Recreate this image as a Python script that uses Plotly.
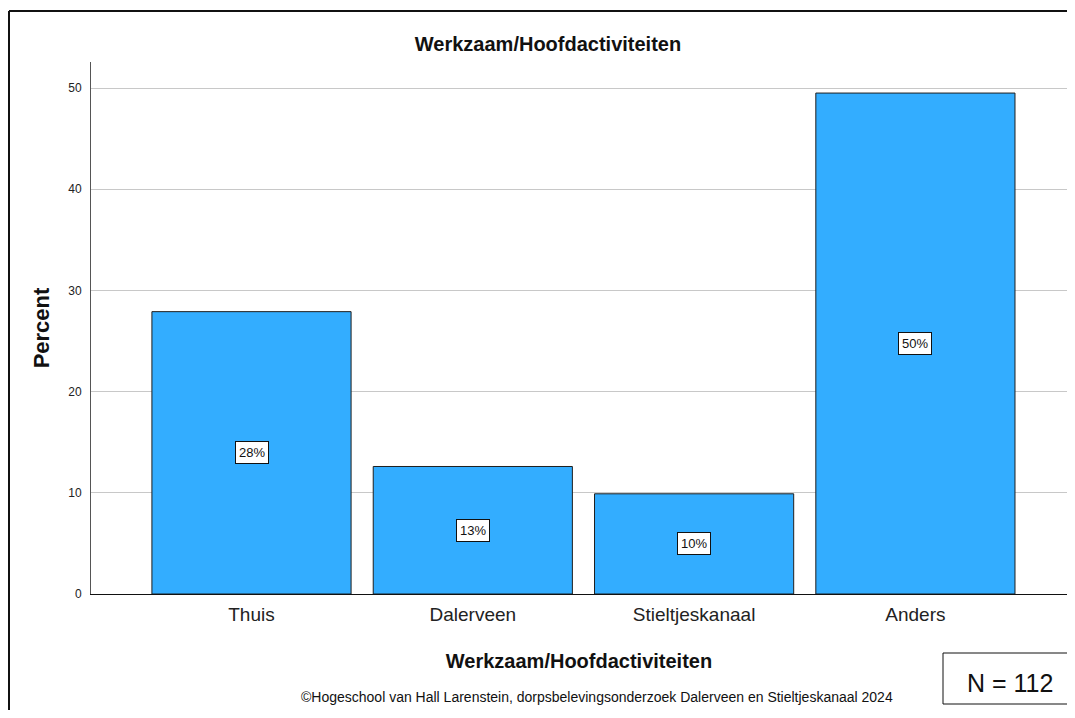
import plotly.graph_objects as go

categories = ["Thuis", "Dalerveen", "Stieltjeskanaal", "Anders"]
percent = [27.9, 12.6, 9.9, 49.5]
bar_labels = [f"{int(v + 0.5)}%" for v in percent]
y_ticks = [0, 10, 20, 30, 40, 50]
n_total = 112

FONT = "Liberation Sans"
O = 8  # browser body margin offset
W, H = 1075 - 2 * O, 718 - 2 * O
L, R, T, B = 91 - O, 0, 62 - O, H - (594 - O)

def px_x(page_x):
    return (page_x - O - L) / (W - L - R)

def px_y(page_y):
    return (H - B - (page_y - O)) / (H - T - B)

CAT_PX = 221.3     # pixels per category
C0_PX = 251.5      # page x of first category centre
x_range = [(91 - C0_PX) / CAT_PX, (1067 - C0_PX) / CAT_PX]

fig = go.Figure()
fig.add_trace(go.Bar(
    x=list(range(len(categories))), y=percent, width=0.9,
    marker=dict(color="#33adff", line=dict(color="#1f1f1f", width=1)),
    hoverinfo="skip",
))

for i, (v, lab) in enumerate(zip(percent, bar_labels)):
    fig.add_annotation(x=i, y=v / 2, xref="x", yref="y", text=lab, showarrow=False,
                       font=dict(family=FONT, size=13, color="#111"),
                       bgcolor="white", bordercolor="#111", borderwidth=1, borderpad=3)

fig.update_layout(
    width=W, height=H,
    margin=dict(l=L, r=R, t=T, b=B),
    paper_bgcolor="white", plot_bgcolor="white",
    showlegend=False,
    title=dict(text="<b>Werkzaam/Hoofdactiviteiten</b>", x=(548 - O) / W, xanchor="center",
               y=1 - (44 - O) / H, yanchor="middle", xref="container", yref="container",
               font=dict(family=FONT, size=20, color="#111")),
    xaxis=dict(
        range=x_range, tickmode="array", tickvals=list(range(len(categories))),
        ticktext=categories, showgrid=False, zeroline=False,
        showline=True, linecolor="#111", linewidth=1, ticks="",
        tickfont=dict(family=FONT, size=19, color="#222"),
        ticklabelstandoff=3,
        title=dict(text="<b>Werkzaam/Hoofdactiviteiten</b>", standoff=30,
                   font=dict(family=FONT, size=20, color="#111")),
    ),
    yaxis=dict(
        range=[0, (H - T - B) / 10.12], tickmode="array", tickvals=y_ticks,
        showgrid=True, gridcolor="#c8c8c8", gridwidth=1, zeroline=False,
        showline=True, linecolor="#555", linewidth=1, ticks="",
        tickfont=dict(family=FONT, size=12, color="#222"),
        ticklabelstandoff=6,
        title=dict(text="<b>Percent</b>", standoff=12,
                   font=dict(family=FONT, size=22, color="#111")),
    ),
)

fig.add_annotation(x=px_x(597), y=px_y(697), xref="paper", yref="paper",
                   text="©Hogeschool van Hall Larenstein, dorpsbelevingsonderzoek Dalerveen en Stieltjeskanaal 2024",
                   showarrow=False, font=dict(family=FONT, size=14, color="#111"),
                   xanchor="center", yanchor="middle")

# N box
fig.add_shape(type="rect", xref="paper", yref="paper",
              x0=px_x(943), x1=px_x(1090), y0=px_y(704), y1=px_y(653),
              line=dict(color="#111", width=1), fillcolor="white", layer="above")
fig.add_annotation(x=px_x(1010), y=px_y(683), xref="paper", yref="paper",
                   text=f"N = {n_total}", showarrow=False,
                   font=dict(family=FONT, size=25, color="#111"),
                   xanchor="center", yanchor="middle")

# outer frame
fig.add_shape(type="line", xref="paper", yref="paper",
              x0=px_x(9), x1=px_x(1090), y0=px_y(11), y1=px_y(11),
              line=dict(color="#111", width=2))
fig.add_shape(type="line", xref="paper", yref="paper",
              x0=px_x(9), x1=px_x(9), y0=px_y(11), y1=px_y(730),
              line=dict(color="#111", width=2))

fig.write_html("out.html")
